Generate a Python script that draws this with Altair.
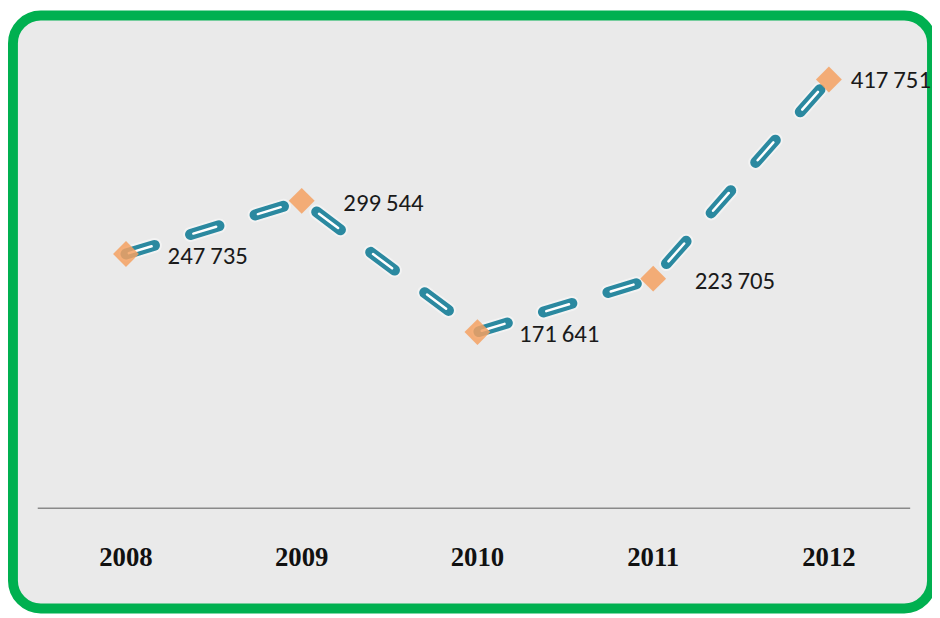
import altair as alt
import pandas as pd

years = [2008, 2009, 2010, 2011, 2012]
values = [247735, 299544, 171641, 223705, 417751]
value_labels = [f"{v:,}".replace(",", "\u2009") for v in values]
year_labels = [str(y) for y in years]

df = pd.DataFrame({"year": years, "value": values, "label": value_labels, "ylabel": year_labels})
baseline_df = pd.DataFrame({"value": [0]})

W, H = 927, 598
xs = alt.Scale(domain=[2008, 2012], range=[114, 823], nice=False, zero=False)
ys = alt.Scale(domain=[0, 480000], range=[497, 0], nice=False, zero=False)

X = alt.X("year:Q", scale=xs, axis=None)
Y = alt.Y("value:Q", scale=ys, axis=None)

label_font = "Carlito, 'DejaVu Sans Condensed', 'Liberation Sans', sans-serif"

base = alt.Chart(df)

axis_line = alt.Chart(baseline_df).mark_rule(color="#8a8a8a", strokeWidth=1.5).encode(
    x=alt.value(25), x2=alt.value(905), y=Y
)

halo = base.mark_line(color="#ffffff", opacity=0.45, strokeWidth=15, strokeDash=[30, 38], strokeCap="round").encode(x=X, y=Y)
line = base.mark_line(color="#2B89A0", strokeWidth=11, strokeDash=[30, 38], strokeCap="round").encode(x=X, y=Y)
inner = base.mark_line(color="#ffffff", strokeWidth=2.5, strokeDash=[24, 44], strokeDashOffset=65, strokeCap="round").encode(x=X, y=Y)

points = base.mark_point(shape="diamond", filled=True, size=680, color="#F5A162", opacity=0.85).encode(x=X, y=Y)

lbl_main = base.transform_filter(alt.datum.year < 2012).mark_text(
    align="left", baseline="middle", dx=42, dy=2, fontSize=25, font=label_font, color="#1a1a1a"
).encode(x=X, y=Y, text="label:N")

lbl_last = base.transform_filter(alt.datum.year == 2012).mark_text(
    align="left", baseline="middle", dx=22, dy=1, fontSize=25, font=label_font, color="#1a1a1a"
).encode(x=X, y=Y, text="label:N")

year_text = base.mark_text(
    align="center", baseline="middle", fontSize=27, font="Liberation Serif", fontWeight="bold", color="#111111"
).encode(x=X, y=alt.value(547), text="ylabel:N")

chart = alt.layer(axis_line, halo, line, inner, points, lbl_main, lbl_last, year_text).properties(
    width=W, height=H,
    padding={"left": 5, "top": 5, "right": 0, "bottom": 3},
    autosize=alt.AutoSizeParams(type="none")
).configure_view(
    stroke="#00B050", strokeWidth=10, cornerRadius=28, fill="#EAEAEA"
)

chart.save("out.html", embed_options={"renderer": "svg", "actions": False})
